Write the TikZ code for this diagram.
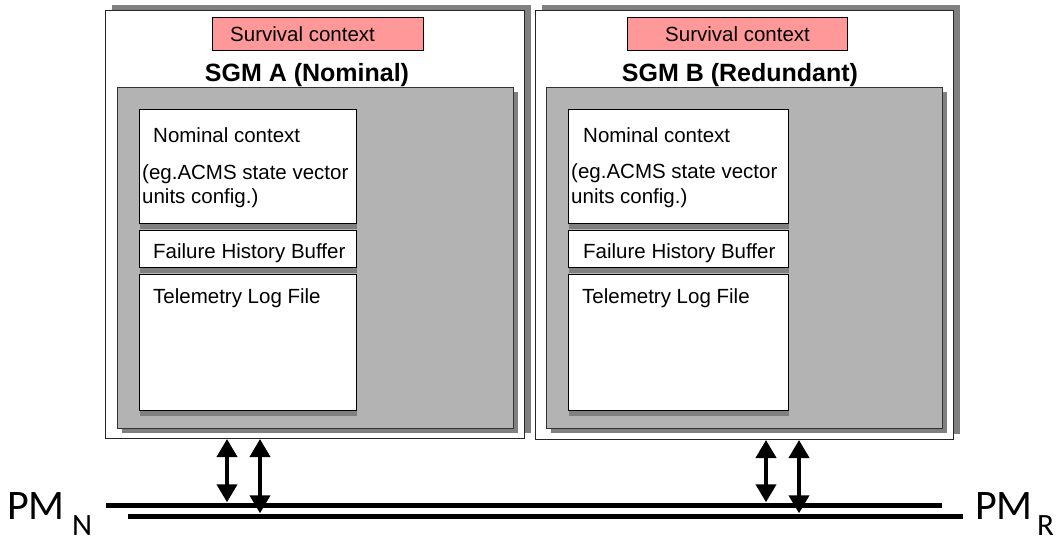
\documentclass[tikz,border=0pt]{standalone}
\usepackage{fontspec}
\setmainfont{Liberation Sans}
\newfontfamily\pmfont{Carlito}
\usetikzlibrary{arrows.meta,shadows}
\definecolor{shadegray}{HTML}{808080}
\definecolor{panelgray}{HTML}{B3B3B3}
\definecolor{survpink}{HTML}{FF9999}
\tikzset{
  box/.style={rectangle, inner sep=0pt, anchor=north west},
  modulebox/.style={box, draw=black!85, line width=1pt, fill=white,
    general shadow={fill=shadegray, shadow xshift=6pt, shadow yshift=6pt}},
  memarea/.style={box, draw=black!80, line width=1pt, fill=panelgray,
    general shadow={fill=shadegray, shadow xshift=4pt, shadow yshift=-4pt}},
  membox/.style={box, draw=black, line width=1pt, fill=white,
    general shadow={fill=shadegray, shadow xshift=0pt, shadow yshift=-5pt}},
  survbox/.style={box, draw=black, line width=1.3pt, fill=survpink},
  txt/.style={inner sep=0pt, anchor=base west, font=\fontsize{20.5}{24}\selectfont},
  title/.style={inner sep=0pt, anchor=base, font=\fontsize{25}{30}\selectfont\bfseries},
  bus/.style={rectangle, inner sep=0pt, minimum height=5pt, fill=black, anchor=west},
  link/.style={line width=4pt, {Triangle[width=20pt,length=18pt]}-{Triangle[width=20pt,length=18pt]}},
  pm/.style={inner sep=0pt, anchor=base west, font=\pmfont\fontsize{42}{42}\selectfont},
  pmsub/.style={inner sep=0pt, anchor=base west, font=\pmfont\fontsize{31}{31}\selectfont},
}
\begin{document}
\begin{tikzpicture}[x=1pt,y=-1pt]
\useasboundingbox (0,0) rectangle (1058,536);
\clip (0,0) rectangle (1058,536);

% --- SGM A ---
\node[modulebox, minimum width=419pt, minimum height=428pt] (sgma) at (105,10) {};
\node[survbox, minimum width=211pt, minimum height=33pt] (survA) at (212,17) {};
\node[txt] (survAtxt) at (230,41) {Survival context};
\node[title] (titleA) at (307,81) {SGM A (Nominal)};
\node[memarea, minimum width=396pt, minimum height=341pt] (memA) at (117,87) {};
\node[membox, minimum width=217pt, minimum height=114pt] (nomA) at (139,109) {};
\node[membox, minimum width=217pt, minimum height=37pt] (fhbA) at (139,230) {};
\node[membox, minimum width=217pt, minimum height=136pt] (tlmA) at (139,274) {};
\node[txt] (nomAt1) at (153,142) {Nominal context};
\node[txt] (nomAt2) at (142,179) {(eg.ACMS state vector};
\node[txt] (nomAt3) at (142,203) {units config.)};
\node[txt] (fhbAt) at (153,258) {Failure History Buffer};
\node[txt] (tlmAt) at (153,303) {Telemetry Log File};

% --- SGM B ---
\node[modulebox, minimum width=418pt, minimum height=429pt] (sgmb) at (535,10) {};
\node[survbox, minimum width=220pt, minimum height=33pt] (survB) at (627,17) {};
\node[txt] (survBtxt) at (665,41) {Survival context};
\node[title] (titleB) at (740,81) {SGM B (Redundant)};
\node[memarea, minimum width=396pt, minimum height=341pt] (memB) at (546,87) {};
\node[membox, minimum width=220pt, minimum height=114pt] (nomB) at (568,109) {};
\node[membox, minimum width=220pt, minimum height=37pt] (fhbB) at (568,230) {};
\node[membox, minimum width=220pt, minimum height=136pt] (tlmB) at (568,274) {};
\node[txt] (nomBt1) at (583,142) {Nominal context};
\node[txt] (nomBt2) at (571,178) {(eg.ACMS state vector};
\node[txt] (nomBt3) at (571,203) {units config.)};
\node[txt] (fhbBt) at (583,258) {Failure History Buffer};
\node[txt] (tlmBt) at (582,303) {Telemetry Log File};

% --- process module buses ---
\node[bus, minimum width=836pt] (busN) at (106,505) {};
\node[bus, minimum width=835pt] (busR) at (128,516) {};

\node[pm] (pmN) at (7,519) {PM};
\node[pmsub] (pmNs) at (72,535) {N};
\node[pm] (pmR) at (975,519) {PM};
\node[pmsub] (pmRs) at (1037,535) {R};

% --- bus links ---
\coordinate (xa1) at (227,0);
\coordinate (xa2) at (260,0);
\coordinate (xb1) at (766,0);
\coordinate (xb2) at (799,0);
\draw[link] (sgma.south -| xa1) -- (busN.north -| xa1);
\draw[link] (sgma.south -| xa2) -- (busR.north -| xa2);
\draw[link] (sgmb.south -| xb1) -- (busN.north -| xb1);
\draw[link] (sgmb.south -| xb2) -- (busR.north -| xb2);
\end{tikzpicture}
\end{document}
